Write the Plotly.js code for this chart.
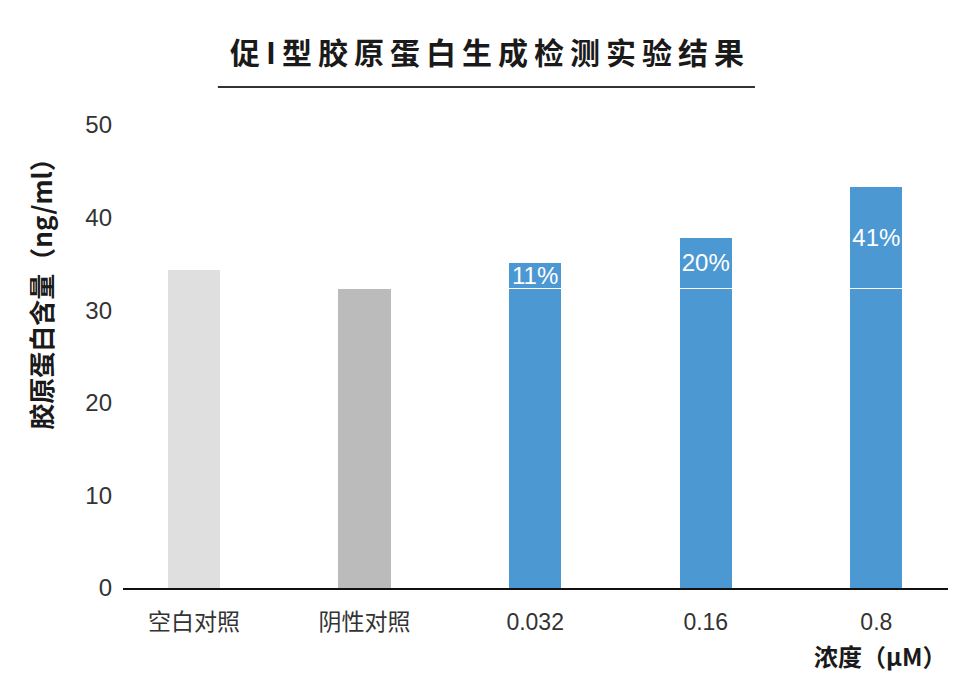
<!DOCTYPE html>
<html>
<head>
<meta charset="utf-8">
<script src="https://cdn.plot.ly/plotly-3.0.1.min.js"></script>
<style>
	html, body { margin: 0; padding: 0; background: #fff; }
	#chart { width: 980px; height: 682px; }
	/* the reference title is spaced out */
	#chart .gtitle { letter-spacing: 6px; }
</style>
</head>
<body>
<div id="chart"></div>
<script>
'use strict';

// data
var controlLabels = ['空白对照', '阴性对照'];
var controlValues = [34.3, 32.3];
var doseLabels = ['0.032', '0.16', '0.8'];
var doseValues = [35.1, 37.9, 43.4];
var increaseLabels = ['11%', '20%', '41%'];

const drawChart = function () {
	var font = 'Liberation Sans, Arial, Noto Sans CJK SC, sans-serif';
	var cjk = 'Noto Sans CJK SC, sans-serif';
	var blue = '#4b98d2';
	var barWidth = 0.31;

	// negative control is the baseline drawn inside the dose bars
	var baseline = controlValues[1];

	var traces = [
		{
			type: 'bar',
			x: controlLabels,
			y: controlValues,
			width: barWidth,
			marker: { color: ['#dfdfdf', '#bbbbbb'] },
			hoverinfo: 'none',
		},
		{
			type: 'bar',
			x: doseLabels,
			y: doseValues.map(function () { return baseline; }),
			width: barWidth,
			marker: { color: blue, line: { color: '#ffffff', width: 1 } },
			hoverinfo: 'none',
		},
		{
			type: 'bar',
			x: doseLabels,
			y: doseValues.map(function (v) { return v - baseline; }),
			width: barWidth,
			text: increaseLabels,
			textposition: 'inside',
			insidetextanchor: 'middle',
			textangle: 0,
			constraintext: 'none',
			textfont: { family: font, size: 24, color: '#ffffff' },
			marker: { color: blue, line: { color: '#ffffff', width: 1 } },
			hoverinfo: 'none',
		},
	];

	var layout = {
		width: 980,
		height: 682,
		margin: { l: 123, r: 32, t: 125, b: 94, pad: 0 },
		paper_bgcolor: '#ffffff',
		plot_bgcolor: '#ffffff',
		showlegend: false,
		barmode: 'stack',
		font: { family: font, color: '#333333' },
		title: {
			text: '促I型胶原蛋白生成检测实验结果',
			font: { family: cjk, size: 30, color: '#1a1a1a', weight: 'bold' },
			x: 0.5,
			xanchor: 'center',
			y: 0.922,
			yanchor: 'middle',
		},
		xaxis: {
			type: 'category',
			categoryorder: 'array',
			categoryarray: controlLabels.concat(doseLabels),
			range: [-0.416, 4.42],
			showgrid: false,
			zeroline: false,
			showline: true,
			linecolor: '#111111',
			linewidth: 2,
			ticks: '',
			ticklabelstandoff: 12,
			tickfont: { family: font, size: 23, color: '#333333' },
			fixedrange: true,
		},
		yaxis: {
			range: [0, 50],
			dtick: 10,
			showgrid: false,
			zeroline: false,
			showline: false,
			ticks: '',
			ticklabelstandoff: 10,
			tickfont: { family: font, size: 24, color: '#333333' },
			fixedrange: true,
		},
		shapes: [
			// rule under the title
			{
				type: 'line',
				xref: 'paper', yref: 'paper',
				x0: 0.115, x1: 0.766,
				y0: 1.082, y1: 1.082,
				line: { color: '#333333', width: 2 },
			},
		],
		annotations: [
			{
				// y axis title, placed as in the reference (not centred on the axis)
				text: '胶原蛋白含量（ng/ml）',
				xref: 'paper', yref: 'paper',
				x: -0.101, y: 0.65,
				xanchor: 'center', yanchor: 'middle',
				textangle: -90,
				showarrow: false,
				font: { family: cjk, size: 26, color: '#1a1a1a', weight: 'bold' },
			},
			{
				text: '浓度（μM）',
				xref: 'paper', yref: 'paper',
				x: 1.0, y: -0.145,
				xanchor: 'right', yanchor: 'middle',
				showarrow: false,
				font: { family: cjk, size: 24, color: '#1a1a1a', weight: 'bold' },
			},
		],
	};

	Plotly.newPlot('chart', traces, layout, { displayModeBar: false, staticPlot: true });
};

document.addEventListener('DOMContentLoaded', drawChart);
</script>
</body>
</html>
